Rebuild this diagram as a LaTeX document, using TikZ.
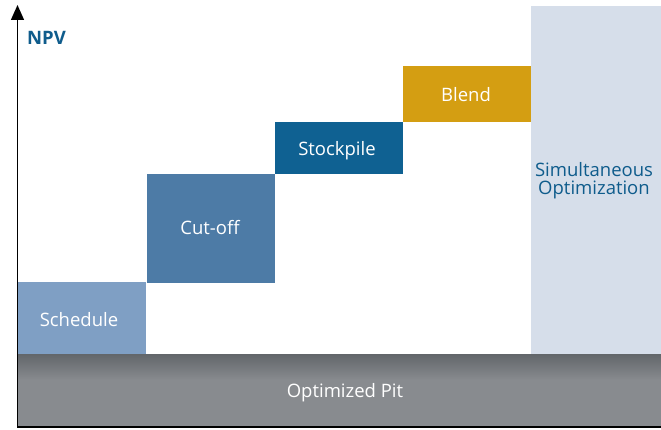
\documentclass[tikz,border=0pt]{standalone}
\usepackage{fontspec}
\setmainfont{Open Sans}
\usetikzlibrary{arrows.meta}
\definecolor{npvblue}{HTML}{0F5C8C}
\definecolor{cSched}{HTML}{7F9FC4}
\definecolor{cCut}{HTML}{4D7BA6}
\definecolor{cStock}{HTML}{0F6192}
\definecolor{cBlend}{HTML}{D49E12}
\definecolor{cSim}{HTML}{D6DEEA}
\definecolor{pitTop}{HTML}{62666A}
\definecolor{pitBot}{HTML}{888B8F}
\tikzset{
  blk/.style={inner sep=0pt, anchor=base, text=white, font=\fontsize{18.5}{22}\selectfont},
}
\begin{document}
\begin{tikzpicture}[x=1pt,y=-1pt]
\useasboundingbox (0,0) rectangle (661,430);
% right panel
\fill[cSim] (531,6) rectangle (661,354);
\node[inner sep=0pt, anchor=base, text=npvblue, align=center, font=\fontsize{18.5}{18.3}\selectfont] (sim) at (594,195) {Simultaneous\\Optimization};
% pit bar
\fill[pitBot] (18,380) rectangle (661,426);
\shade[top color=pitTop, bottom color=pitBot] (18,354) rectangle (661,380);
\node[blk] (pit) at (345,397) {Optimized Pit};
% blocks
\fill[cSched] (18,282) rectangle (146,354);
\node[blk] (sched) at (79,326) {Schedule};
\fill[cCut] (147,174) rectangle (275,283);
\node[blk] (cut) at (210,235) {Cut-off};
\fill[cStock] (275,122) rectangle (403,174);
\node[blk] (stock) at (337,155.7) {Stockpile};
\fill[cBlend] (403,66) rectangle (531,122);
\node[blk] (blend) at (466,102) {Blend};
% axes
\coordinate (origin) at (17.5,427);
\coordinate (ytop) at (17.5,5);
\coordinate (xend) at (661,427);
\draw[line width=1.4pt, -{Triangle[length=15pt,width=13pt]}] (origin) -- (ytop);
\draw[line width=1.8pt] (17,427) -- (xend);
\node[inner sep=0pt, anchor=base west, text=npvblue, font=\fontsize{18.5}{22}\selectfont\bfseries] (npv) at (27,44.3) {NPV};
\end{tikzpicture}
\end{document}
